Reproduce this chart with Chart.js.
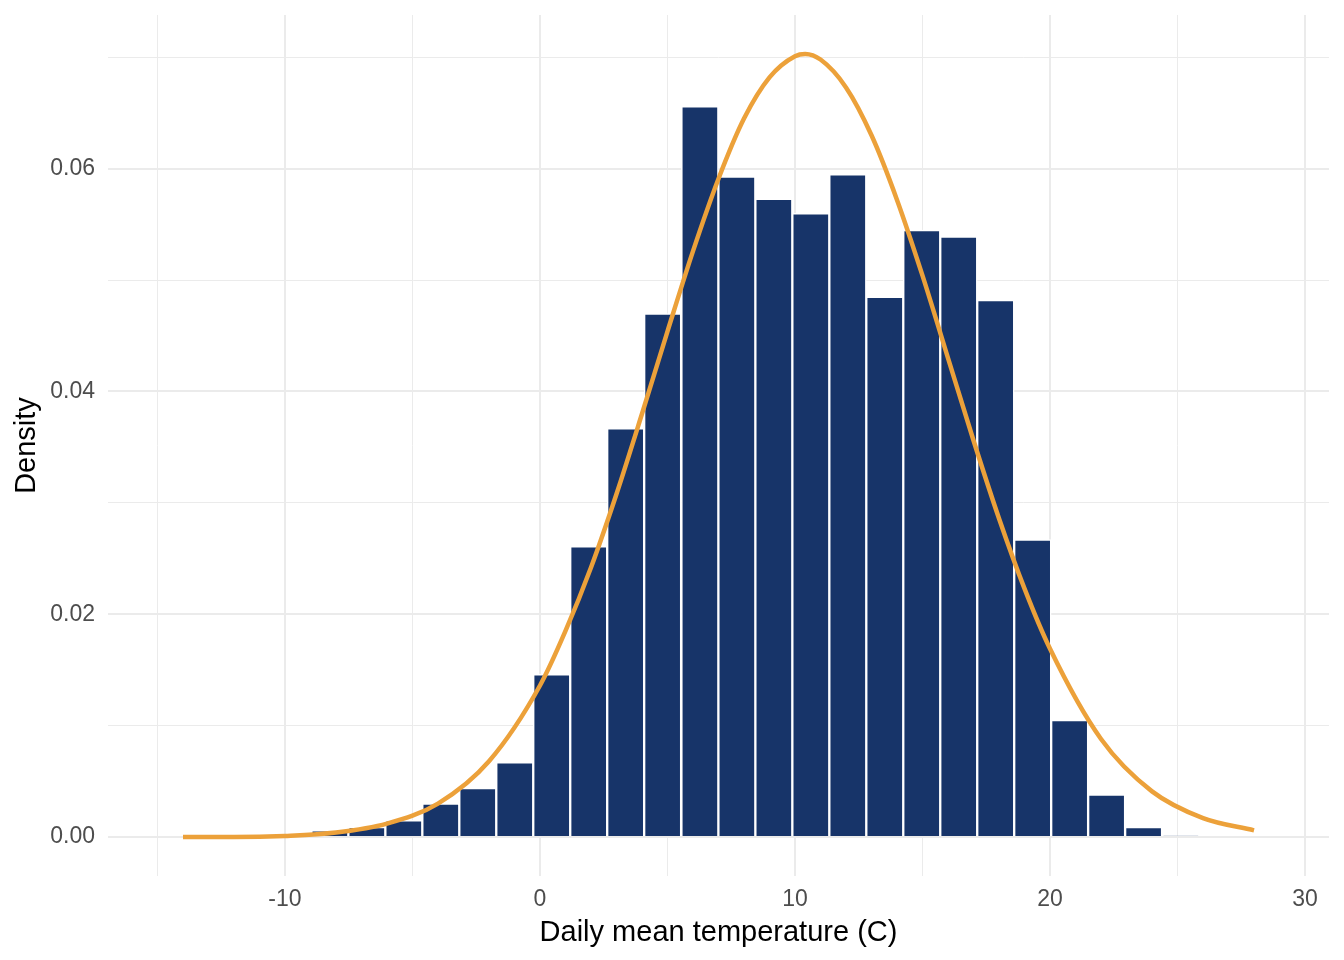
<!DOCTYPE html>
<html>
<head>
<meta charset="utf-8">
<script src="https://cdn.jsdelivr.net/npm/chart.js@4.4.1/dist/chart.umd.min.js"></script>
<style>
  html, body { margin: 0; padding: 0; background: #fff; }
  #wrap { width: 1344px; height: 960px; }
</style>
</head>
<body>
<div id="wrap"><canvas id="histChart" width="1344" height="960"></canvas></div>
<script>
// histogram bins (centres, width ~1.45) and their densities
const binCenters = [-14.04, -12.59, -11.14, -9.69, -8.24, -6.79, -5.34, -3.89, -2.44, -0.99,
                    0.46, 1.91, 3.36, 4.81, 6.27, 7.72, 9.17, 10.62, 12.07, 13.52,
                    14.97, 16.42, 17.87, 19.32, 20.77, 22.22, 23.67, 25.13, 26.58, 28.03];
const binDensity = [0, 0, 0, 0, 0.0006, 0.0009, 0.0015, 0.0030, 0.0044, 0.0067,
                    0.0146, 0.0261, 0.0367, 0.0470, 0.0656, 0.0593, 0.0573, 0.0560, 0.0595, 0.0485,
                    0.0545, 0.0539, 0.0482, 0.0267, 0.0105, 0.0038, 0.0009, 0.0001, 0, 0];

// fitted normal curve
const curveX = [-14, -12, -10, -8, -6, -4, -2, 0, 1, 2, 3, 4, 5, 6, 7, 8, 9, 10, 10.4,
                11, 12, 13, 14, 15, 16, 17, 18, 19, 20, 22, 24, 26, 28];
const curveY = [0.0000, 0.0000, 0.0001, 0.0004, 0.0012, 0.0030, 0.0068, 0.0136, 0.0185, 0.0242,
                0.0308, 0.0380, 0.0454, 0.0526, 0.0591, 0.0645, 0.0682, 0.0701, 0.0703, 0.0698,
                0.0673, 0.0630, 0.0572, 0.0504, 0.0430, 0.0356, 0.0286, 0.0223, 0.0169, 0.0088,
                0.0041, 0.0017, 0.0006];

const xTicks = [-15, -10, -5, 0, 5, 10, 15, 20, 25, 30];
const xLabels = ['', '-10', '', '0', '', '10', '', '20', '', '30'];
const yTicks = [0, 0.01, 0.02, 0.03, 0.04, 0.05, 0.06, 0.07];
const yLabels = ['0.00', '', '0.02', '', '0.04', '', '0.06', ''];

Chart.defaults.font.family = "'Liberation Sans', Arial, sans-serif";

const gridColor = '#EBEBEB';

new Chart(document.getElementById('histChart'), {
    type: 'bar',
    data: {
        datasets: [{
            type: 'line',
            data: curveX.map((x, i) => ({ x: x, y: curveY[i] })),
            borderColor: '#ECA13A',
            borderWidth: 4.5,
            pointRadius: 0,
            fill: false,
            cubicInterpolationMode: 'monotone',
            order: 0
        }, {
            type: 'bar',
            data: binCenters.map((x, i) => ({ x: x, y: binDensity[i] })),
            backgroundColor: '#173469',
            borderColor: '#FFFFFF',
            borderWidth: 1.5,
            barPercentage: 1,
            categoryPercentage: 1,
            order: 1
        }]
    },
    options: {
        responsive: false,
        animation: false,
        devicePixelRatio: 1,
        layout: { padding: { top: 15, right: 15, left: 0, bottom: 0 } },
        plugins: { legend: { display: false }, tooltip: { enabled: false } },
        scales: {
            x: {
                type: 'linear',
                min: -16.94,
                max: 30.94,
                offset: false,
                afterBuildTicks: s => { s.ticks = xTicks.map(v => ({ value: v })); },
                afterFit: s => { s.height = 84; s.paddingLeft = 0; s.paddingRight = 0; },
                ticks: {
                    autoSkip: false,
                    maxRotation: 0,
                    padding: 10,
                    color: '#4D4D4D',
                    font: { size: 23 },
                    callback: (v, i) => xLabels[i]
                },
                grid: {
                    offset: false,
                    drawTicks: false,
                    color: gridColor,
                    lineWidth: ctx => xLabels[ctx.index] ? 2 : 1
                },
                border: { display: false },
                title: {
                    display: true,
                    text: 'Daily mean temperature (C)',
                    color: '#000000',
                    font: { size: 29 },
                    padding: { top: 0, bottom: 10 }
                }
            },
            y: {
                type: 'linear',
                min: -0.0035,
                max: 0.0738,
                afterBuildTicks: s => { s.ticks = yTicks.map(v => ({ value: v })); },
                afterFit: s => { s.width = 108; s.paddingTop = 0; s.paddingBottom = 0; },
                ticks: {
                    padding: 13,
                    color: '#4D4D4D',
                    font: { size: 23 },
                    callback: (v, i) => yLabels[i]
                },
                grid: {
                    drawTicks: false,
                    color: gridColor,
                    lineWidth: ctx => yLabels[ctx.index] ? 2 : 1
                },
                border: { display: false },
                title: {
                    display: true,
                    text: 'Density',
                    color: '#000000',
                    font: { size: 29 },
                    padding: { top: 10, bottom: 0 }
                }
            }
        }
    }
});
</script>
</body>
</html>
